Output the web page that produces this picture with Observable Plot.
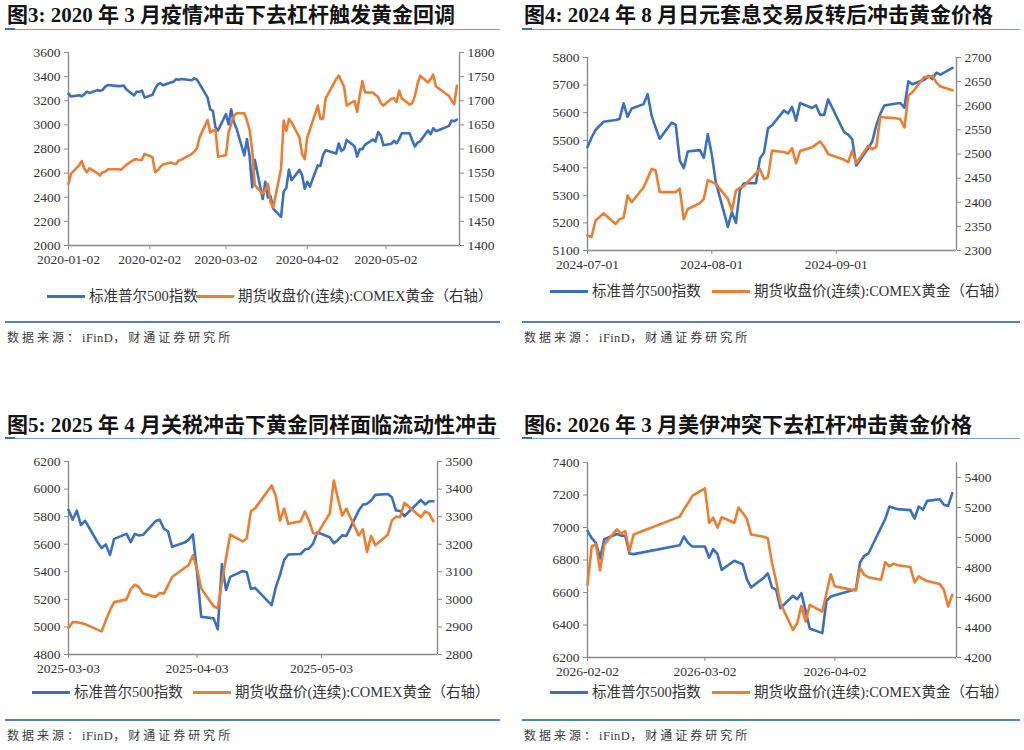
<!DOCTYPE html>
<html>
<head>
<meta charset="utf-8">
<script src="https://cdn.jsdelivr.net/npm/d3@7"></script>
<script src="https://cdn.jsdelivr.net/npm/@observablehq/plot@0.6"></script>
<style>
  html, body { margin: 0; padding: 0; background: #fff; }
  body { width: 1024px; height: 750px; position: relative; overflow: hidden;
         font-family: "Liberation Serif", "Noto Sans CJK SC", serif; color: #222; }
  .title { position: absolute; font-weight: bold; font-size: 21px; line-height: 24px; color: #141414; white-space: nowrap; }
  .rule { position: absolute; height: 1px; background: #7b9fd0; }
  .rule::before { content: ""; position: absolute; left: 0; top: -1px; width: 10px; height: 2px; background: #3f6fb3; }
  .sep { position: absolute; height: 2px; background: #4f81bd; }
  .src { position: absolute; font-size: 12px; letter-spacing: 3px; color: #3c3c3c; white-space: nowrap; line-height: 16px; }
  .src .lat { letter-spacing: 0.4px; font-size: 12.5px; }
  .legend { position: absolute; font-size: 14.5px; line-height: 18px; color: #333; white-space: nowrap; }
  .legend .item { position: absolute; top: 0; display: flex; align-items: center; }
  .legend .sw { display: inline-block; width: 38px; height: 3px; margin-right: 4px; }
  .chart { position: absolute; }
</style>
</head>
<body>
<script>
// ---- Series colours and shared labels ----
const BLUE = "#3a6fc2";
const ORANGE = "#ed7d31";
const seriesNames = ["标准普尔500指数", "期货收盘价(连续):COMEX黄金（右轴）"];
const sourceParts = ["数据来源：", "iFinD", "，财通证券研究所"];

// ---- 图3: 2020 (trading days Jan 2 – May 29) ----
const days1 = [
  "01-02","01-03","01-06","01-07","01-08","01-09","01-10","01-13","01-14","01-15","01-16","01-17","01-21","01-22","01-23","01-24","01-27","01-28","01-29","01-30","01-31",
  "02-03","02-04","02-05","02-06","02-07","02-10","02-11","02-12","02-13","02-14","02-18","02-19","02-20","02-21","02-24","02-25","02-26","02-27","02-28",
  "03-02","03-03","03-04","03-05","03-06","03-09","03-10","03-11","03-12","03-13","03-16","03-17","03-18","03-19","03-20","03-23","03-24","03-25","03-26","03-27","03-30","03-31",
  "04-01","04-02","04-03","04-06","04-07","04-08","04-09","04-13","04-14","04-15","04-16","04-17","04-20","04-21","04-22","04-23","04-24","04-27","04-28","04-29","04-30",
  "05-01","05-04","05-05","05-06","05-07","05-08","05-11","05-12","05-13","05-14","05-15","05-18","05-19","05-20","05-21","05-22","05-26","05-27","05-28","05-29"
];
const spx1 = [
  3258,3235,3246,3237,3253,3275,3265,3288,3283,3289,3317,3330,3321,3322,3326,3295,3244,3276,3273,3284,3226,
  3249,3298,3335,3346,3328,3352,3358,3379,3374,3380,3370,3386,3373,3338,3226,3128,3116,2979,2954,
  3090,3003,3130,3024,2972,2747,2882,2741,2481,2711,2386,2529,2398,2409,2305,2237,2447,2476,2630,2541,2627,2585,
  2471,2527,2489,2664,2659,2750,2790,2762,2846,2783,2800,2875,2823,2737,2799,2798,2837,2878,2863,2940,2912,
  2831,2843,2868,2848,2881,2930,2930,2870,2820,2853,2864,2954,2923,2972,2949,2955,2992,3036,3030,3044
];
const gold1 = [
  1528,1549,1566,1575,1560,1552,1560,1550,1545,1552,1553,1558,1558,1557,1562,1567,1578,1579,1577,1578,1590,
  1583,1552,1556,1563,1568,1572,1570,1569,1576,1578,1590,1595,1602,1625,1660,1634,1638,1640,1584,
  1587,1634,1652,1668,1674,1674,1659,1640,1597,1525,1507,1515,1528,1490,1479,1559,1659,1638,1662,1655,1624,1590,
  1579,1625,1640,1690,1662,1663,1705,1745,1752,1740,1730,1690,1700,1677,1712,1741,1717,1717,1712,1708,1695,
  1690,1704,1705,1697,1721,1705,1692,1695,1710,1735,1752,1738,1745,1754,1730,1726,1710,1700,1693,1731
];
const xTicks1 = ["2020-01-02","2020-02-02","2020-03-02","2020-04-02","2020-05-02"];
const yLeft1 = [2000, 2200, 2400, 2600, 2800, 3000, 3200, 3400, 3600];
const yRight1 = [1400, 1450, 1500, 1550, 1600, 1650, 1700, 1750, 1800];

// ---- 图4: 2024 (trading days Jul 1 – Sep 30) ----
const days2 = [
  "07-01","07-02","07-03","07-05","07-08","07-09","07-10","07-11","07-12","07-15","07-16","07-17","07-18","07-19","07-22","07-23","07-24","07-25","07-26","07-29","07-30","07-31",
  "08-01","08-02","08-05","08-06","08-07","08-08","08-09","08-12","08-13","08-14","08-15","08-16","08-19","08-20","08-21","08-22","08-23","08-26","08-27","08-28","08-29","08-30",
  "09-03","09-04","09-05","09-06","09-09","09-10","09-11","09-12","09-13","09-16","09-17","09-18","09-19","09-20","09-23","09-24","09-25","09-26","09-27","09-30"
];
const spx2 = [
  5475,5509,5537,5567,5573,5577,5634,5585,5615,5631,5667,5588,5545,5505,5564,5556,5427,5399,5459,5464,5436,5522,
  5447,5347,5186,5240,5200,5319,5344,5344,5434,5455,5543,5554,5608,5597,5621,5571,5635,5617,5626,5592,5592,5648,
  5529,5520,5503,5408,5471,5496,5554,5596,5626,5633,5635,5618,5714,5703,5719,5733,5722,5745,5738,5762
];
const gold2 = [
  2331,2328,2362,2377,2355,2365,2368,2414,2400,2431,2450,2469,2466,2421,2421,2421,2428,2365,2386,2398,2407,2446,
  2442,2438,2407,2383,2424,2430,2434,2460,2469,2448,2452,2507,2504,2501,2512,2481,2506,2514,2520,2526,2515,2500,
  2488,2483,2507,2481,2517,2510,2515,2577,2576,2574,2572,2555,2621,2628,2660,2659,2662,2648,2640,2632
];
const xTicks2 = ["2024-07-01","2024-08-01","2024-09-01"];
const yLeft2 = [5100, 5200, 5300, 5400, 5500, 5600, 5700, 5800];
const yRight2 = [2300, 2350, 2400, 2450, 2500, 2550, 2600, 2650, 2700];

// ---- 图5: 2025 (trading days Mar 3 – May 30) ----
const days3 = [
  "03-03","03-04","03-05","03-06","03-07","03-10","03-11","03-12","03-13","03-14","03-17","03-18","03-19","03-20","03-21","03-24","03-25","03-26","03-27","03-28","03-31",
  "04-01","04-02","04-03","04-04","04-07","04-08","04-09","04-10","04-11","04-14","04-15","04-16","04-17","04-21","04-22","04-23","04-24","04-25","04-28","04-29","04-30",
  "05-01","05-02","05-05","05-06","05-07","05-08","05-09","05-12","05-13","05-14","05-15","05-16","05-19","05-20","05-21","05-22","05-23","05-27","05-28","05-29","05-30"
];
const spx3 = [
  5850,5778,5843,5739,5770,5615,5572,5599,5522,5639,5675,5615,5675,5663,5668,5768,5777,5712,5693,5581,5612,
  5633,5671,5397,5074,5062,4983,5457,5268,5363,5406,5397,5276,5283,5158,5288,5376,5485,5525,5529,5561,5569,
  5604,5687,5650,5607,5631,5664,5660,5844,5887,5893,5917,5958,5964,5940,5845,5842,5803,5922,5889,5912,5912
];
const gold3 = [
  2897,2918,2917,2914,2910,2890,2884,2924,2960,2990,3000,3037,3053,3045,3021,3009,3023,3021,3051,3081,3114,
  3124,3160,3110,3039,2975,2967,3065,3150,3235,3210,3222,3320,3330,3413,3375,3285,3329,3274,3283,3319,3286,
  3240,3238,3311,3431,3365,3304,3329,3232,3254,3172,3230,3196,3234,3286,3300,3298,3350,3298,3319,3311,3283
];
const xTicks3 = ["2025-03-03","2025-04-03","2025-05-03"];
const yLeft3 = [4800, 5000, 5200, 5400, 5600, 5800, 6000, 6200];
const yRight3 = [2800, 2900, 3000, 3100, 3200, 3300, 3400, 3500];

// ---- 图6: 2026 (trading days Feb 2 – Apr 30, holiday gaps left out) ----
const days4 = [
  "02-02","02-03","02-04","02-05","02-06","02-09","02-10","02-11","02-12","02-13","02-24","02-25","02-26","02-27",
  "03-02","03-03","03-04","03-05","03-06","03-09","03-10","03-11","03-12","03-13","03-16","03-17","03-18","03-19","03-20","03-23","03-24","03-25","03-26","03-27","03-30","03-31",
  "04-01","04-02","04-07","04-08","04-09","04-10","04-13","04-14","04-15","04-16","04-17","04-20","04-21","04-22","04-23","04-24","04-27","04-28","04-29","04-30"
];
const spx4 = [
  6979,6935,6905,6810,6928,6960,6950,6949,6840,6836,6891,6945,6905,6883,
  6883,6815,6867,6836,6739,6795,6785,6774,6682,6631,6690,6717,6631,6616,6504,6580,6559,6596,6487,6378,6350,6549,
  6575,6583,6620,6785,6826,6840,7000,7051,7129,7120,7113,7107,7055,7129,7109,7164,7174,7140,7133,7211
];
const gold4 = [
  4685,4940,4955,4781,4953,5054,5027,5042,4908,5020,5139,5188,5230,5277,
  5328,5098,5132,5065,5135,5098,5199,5165,5125,5020,5005,4995,4830,4707,4562,4383,4428,4544,4439,4551,4506,4630,
  4755,4674,4647,4797,4752,4735,4718,4835,4808,4826,4815,4803,4700,4741,4723,4710,4690,4651,4540,4618
];
const xTicks4 = ["2026-02-02","2026-03-02","2026-04-02"];
const yLeft4 = [6200, 6400, 6600, 6800, 7000, 7200, 7400];
const yRight4 = [4200, 4400, 4600, 4800, 5000, 5200, 5400];

// ---- helpers ----
const utc = s => new Date(s + "T00:00:00Z");
const toRows = (year, days, vals) => days.map((d, i) => ({date: utc(`${year}-${d}`), v: vals[i]}));
const fmtDate = d3.utcFormat("%Y-%m-%d");
const fmtNum = d3.format("d");
const AXIS = "#8a8a8a";
const TEXT = "#333333";
const chartStyle = "font-family:'Liberation Serif',serif;font-size:13.5px;background:transparent;overflow:visible;";

function addDiv(cls, css, text) {
  const el = document.createElement("div");
  el.className = cls;
  el.style.cssText = css;
  if (text != null) el.textContent = text;
  document.body.appendChild(el);
  return el;
}

function panel(p) {
  // heading and the thin rule under it
  addDiv("title", `left:${p.left + 7}px;top:${p.titleTop}px;`, p.title);
  addDiv("rule", `left:${p.left + 5}px;top:${p.ruleTop}px;width:${p.ruleWidth}px;`);

  const x0 = utc(p.xDomain[0]), x1 = utc(p.xDomain[1]);
  const common = {
    width: p.width, height: p.height,
    marginLeft: p.ml, marginRight: p.mr, marginTop: p.mt, marginBottom: p.mb,
    style: chartStyle
  };

  // left scale: index line, x axis and left axis
  const left = Plot.plot({
    ...common,
    x: {type: "utc", domain: [x0, x1], label: null},
    y: {domain: p.yLeftDomain, label: null},
    marks: [
      Plot.ruleY([p.yLeftDomain[0]], {stroke: AXIS, strokeWidth: 1.4}),
      Plot.ruleX([x0], {stroke: AXIS, strokeWidth: 1.4}),
      Plot.axisY({ticks: p.yLeftTicks, tickFormat: fmtNum, tickSize: 4, tickPadding: 4, stroke: AXIS, fill: TEXT, label: null}),
      Plot.axisX({ticks: p.xTicks.map(utc), tickSize: 4, tickPadding: 5, tickFormat: fmtDate, stroke: AXIS, fill: TEXT, label: null}),
      Plot.line(p.spx, {x: "date", y: "v", stroke: BLUE, strokeWidth: 2.6, strokeLinejoin: "round"})
    ]
  });

  // right scale: gold line and right axis, laid over the left chart
  const right = Plot.plot({
    ...common,
    x: {type: "utc", domain: [x0, x1], axis: null},
    y: {domain: p.yRightDomain, label: null},
    marks: [
      Plot.ruleX([x1], {stroke: AXIS, strokeWidth: 1.4}),
      Plot.axisY({anchor: "right", ticks: p.yRightTicks, tickFormat: fmtNum, tickSize: 4, tickPadding: 4, stroke: AXIS, fill: TEXT, label: null}),
      Plot.line(p.gold, {x: "date", y: "v", stroke: ORANGE, strokeWidth: 2.6, strokeLinejoin: "round"})
    ]
  });

  for (const svg of [left, right]) {
    const holder = addDiv("chart", `left:${p.left}px;top:${p.chartTop}px;width:${p.width}px;height:${p.height}px;`);
    holder.appendChild(svg);
  }

  // legend
  const lg = addDiv("legend", `left:${p.left}px;top:${p.legendTop}px;width:500px;height:18px;`);
  [[BLUE, seriesNames[0], p.legendX[0]], [ORANGE, seriesNames[1], p.legendX[1]]].forEach(([c, name, lx]) => {
    const item = document.createElement("div");
    item.className = "item";
    item.style.left = lx + "px";
    const sw = document.createElement("span");
    sw.className = "sw";
    sw.style.background = c;
    const tx = document.createElement("span");
    tx.textContent = name;
    item.append(sw, tx);
    lg.appendChild(item);
  });

  // separator and source line
  addDiv("sep", `left:${p.left + 5}px;top:${p.sepTop}px;width:${p.ruleWidth}px;`);
  const src = addDiv("src", `left:${p.left + 7}px;top:${p.srcTop}px;`);
  sourceParts.forEach((t, i) => {
    const s = document.createElement("span");
    if (i === 1) s.className = "lat";
    s.textContent = t;
    src.appendChild(s);
  });
}

panel({
  title: "图3: 2020 年 3 月疫情冲击下去杠杆触发黄金回调",
  left: 0, titleTop: 3, ruleTop: 29, ruleWidth: 495,
  chartTop: 40, width: 510, height: 240, ml: 68, mr: 51, mt: 12, mb: 35,
  xDomain: ["2020-01-02", "2020-05-30"], xTicks: xTicks1,
  yLeftDomain: [2000, 3600], yLeftTicks: yLeft1,
  yRightDomain: [1400, 1800], yRightTicks: yRight1,
  spx: toRows(2020, days1, spx1), gold: toRows(2020, days1, gold1),
  legendTop: 287, legendX: [47, 196], sepTop: 321, srcTop: 330
});

panel({
  title: "图4: 2024 年 8 月日元套息交易反转后冲击黄金价格",
  left: 517, titleTop: 3, ruleTop: 29, ruleWidth: 498,
  chartTop: 40, width: 505, height: 240, ml: 70, mr: 66, mt: 17, mb: 30,
  xDomain: ["2024-07-01", "2024-10-01"], xTicks: xTicks2,
  yLeftDomain: [5100, 5800], yLeftTicks: yLeft2,
  yRightDomain: [2300, 2700], yRightTicks: yRight2,
  spx: toRows(2024, days2, spx2), gold: toRows(2024, days2, gold2),
  legendTop: 282, legendX: [33, 195], sepTop: 321, srcTop: 330
});

panel({
  title: "图5: 2025 年 4 月关税冲击下黄金同样面临流动性冲击",
  left: 0, titleTop: 413, ruleTop: 438, ruleWidth: 495,
  chartTop: 445, width: 510, height: 240, ml: 68, mr: 73, mt: 16, mb: 31,
  xDomain: ["2025-03-03", "2025-05-31"], xTicks: xTicks3,
  yLeftDomain: [4800, 6200], yLeftTicks: yLeft3,
  yRightDomain: [2800, 3500], yRightTicks: yRight3,
  spx: toRows(2025, days3, spx3), gold: toRows(2025, days3, gold3),
  legendTop: 683, legendX: [32, 193], sepTop: 719, srcTop: 728
});

panel({
  title: "图6: 2026 年 3 月美伊冲突下去杠杆冲击黄金价格",
  left: 517, titleTop: 413, ruleTop: 438, ruleWidth: 498,
  chartTop: 445, width: 505, height: 240, ml: 70, mr: 66, mt: 17, mb: 28,
  xDomain: ["2026-02-02", "2026-05-01"], xTicks: xTicks4,
  yLeftDomain: [6200, 7400], yLeftTicks: yLeft4,
  yRightDomain: [4200, 5500], yRightTicks: yRight4,
  spx: toRows(2026, days4, spx4), gold: toRows(2026, days4, gold4),
  legendTop: 683, legendX: [33, 195], sepTop: 719, srcTop: 728
});
</script>
</body>
</html>
